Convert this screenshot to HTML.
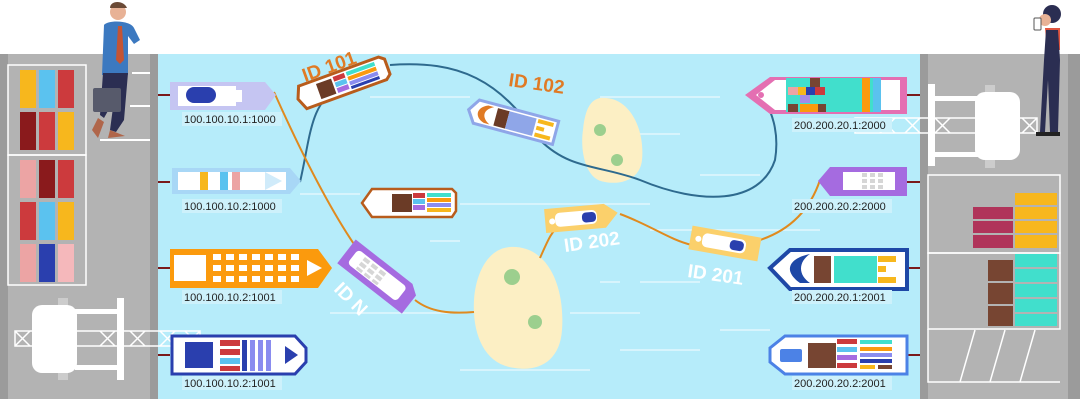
<!DOCTYPE html>
<html><head><meta charset="utf-8"><style>
html,body{margin:0;padding:0;background:#fff;}
svg{display:block;}
text{font-family:"Liberation Sans",sans-serif;}
</style></head><body>
<svg width="1080" height="404" viewBox="0 0 1080 404" xmlns="http://www.w3.org/2000/svg">
<rect width="1080" height="404" fill="#fff"/>
<!-- docks -->
<rect x="0" y="54" width="158" height="345" fill="#b3b3b3"/>
<rect x="0" y="54" width="8" height="345" fill="#9b9b9b"/>
<rect x="150" y="54" width="8" height="345" fill="#9b9b9b"/>
<rect x="920" y="54" width="160" height="345" fill="#b3b3b3"/>
<rect x="920" y="54" width="8" height="345" fill="#9b9b9b"/>
<rect x="1068" y="54" width="12" height="345" fill="#9b9b9b"/>
<!-- water -->
<rect x="158" y="54" width="762" height="345" fill="#b6ecfa"/>
<g stroke="#e2f7fd" stroke-width="1.5">
<line x1="370" y1="97" x2="470" y2="97"/><line x1="600" y1="97" x2="720" y2="97"/>
<line x1="640" y1="134" x2="680" y2="134"/><line x1="700" y1="175" x2="760" y2="175"/>
<line x1="300" y1="194" x2="360" y2="194"/><line x1="460" y1="204" x2="650" y2="204"/>
<line x1="430" y1="241" x2="460" y2="241"/><line x1="650" y1="230" x2="820" y2="230"/>
<line x1="600" y1="282" x2="620" y2="282"/><line x1="640" y1="282" x2="700" y2="282"/>
<line x1="330" y1="313" x2="450" y2="313"/><line x1="570" y1="313" x2="640" y2="313"/>
<line x1="720" y1="330" x2="770" y2="330"/><line x1="620" y1="350" x2="700" y2="350"/>
<line x1="770" y1="357" x2="905" y2="357"/><line x1="460" y1="370" x2="590" y2="370"/>
</g>
<!-- left storage -->
<g stroke="#fff" stroke-width="1.5" fill="none"><rect x="8" y="65" width="78" height="90"/><rect x="8" y="155" width="78" height="130"/></g>
<g>
<rect x="20" y="70" width="16" height="38" fill="#f7b71d"/><rect x="39" y="70" width="16" height="38" fill="#5bc2ef"/><rect x="58" y="70" width="16" height="38" fill="#cc3a3d"/>
<rect x="20" y="112" width="16" height="38" fill="#8a1a1c"/><rect x="39" y="112" width="16" height="38" fill="#cc3a3d"/><rect x="58" y="112" width="16" height="38" fill="#f7b71d"/>
<rect x="20" y="160" width="16" height="38" fill="#eca4a4"/><rect x="39" y="160" width="16" height="38" fill="#8a1a1c"/><rect x="58" y="160" width="16" height="38" fill="#cc3a3d"/>
<rect x="20" y="202" width="16" height="38" fill="#cc3a3d"/><rect x="39" y="202" width="16" height="38" fill="#5bc2ef"/><rect x="58" y="202" width="16" height="38" fill="#f7b71d"/>
<rect x="20" y="244" width="16" height="38" fill="#eca4a4"/><rect x="39" y="244" width="16" height="38" fill="#2a3fae"/><rect x="58" y="244" width="16" height="38" fill="#f5b8bb"/>
</g>
<g stroke="#fff" stroke-width="2"><line x1="132" y1="73" x2="150" y2="73"/><line x1="130" y1="106" x2="150" y2="106"/><line x1="100" y1="140" x2="150" y2="140"/></g>
<!-- left crane -->
<rect x="58" y="298" width="10" height="8" fill="#ccc"/><rect x="58" y="372" width="10" height="8" fill="#ccc"/>
<rect x="32" y="305" width="45" height="68" rx="10" fill="#fff"/>
<rect x="117" y="298" width="7" height="82" fill="#fff"/>
<rect x="75" y="309" width="45" height="5" fill="#fff"/><rect x="75" y="365" width="45" height="5" fill="#fff"/>
<g stroke="#fff" stroke-width="1.5" fill="none"><rect x="15" y="331" width="185" height="15"/>
<path d="M15 331 L30 346 M30 331 L15 346 M100 331 L115 346 M115 331 L100 346 M130 331 L145 346 M145 331 L130 346 M160 331 L175 346 M175 331 L160 346 M185 331 L200 346 M200 331 L185 346"/></g>
<!-- right crane -->
<rect x="985" y="85" width="10" height="8" fill="#ccc"/><rect x="985" y="160" width="10" height="8" fill="#ccc"/>
<rect x="928" y="84" width="7" height="82" fill="#fff"/>
<rect x="933" y="96" width="50" height="5" fill="#fff"/><rect x="933" y="152" width="50" height="5" fill="#fff"/>
<rect x="975" y="92" width="45" height="68" rx="10" fill="#fff"/>
<g stroke="#fff" stroke-width="1.5" fill="none"><rect x="855" y="118" width="182" height="15"/>
<path d="M880 118 L895 133 M895 118 L880 133 M905 118 L920 133 M920 118 L905 133 M935 118 L950 133 M950 118 L935 133 M1022 118 L1037 133 M1037 118 L1022 133"/></g>
<!-- right storage -->
<g stroke="#fff" stroke-width="1.5" fill="none"><rect x="928" y="175" width="132" height="78"/><rect x="928" y="253" width="132" height="76"/><path d="M928 329 V382 H1060 M960 382 L975 330 M990 382 L1005 330 M1020 382 L1035 330"/></g>
<g fill="#f7b71d"><rect x="1015" y="193" width="42" height="12"/><rect x="1015" y="207" width="42" height="12"/><rect x="1015" y="221" width="42" height="12"/><rect x="1015" y="235" width="42" height="13"/></g>
<g fill="#b0345a"><rect x="973" y="207" width="40" height="12"/><rect x="973" y="221" width="40" height="12"/><rect x="973" y="235" width="40" height="13"/></g>
<g fill="#41dfcc"><rect x="1015" y="254" width="42" height="13"/><rect x="1015" y="269" width="42" height="13"/><rect x="1015" y="284" width="42" height="13"/><rect x="1015" y="299" width="42" height="13"/><rect x="1015" y="314" width="42" height="12"/></g>
<g fill="#774532"><rect x="988" y="260" width="25" height="21"/><rect x="988" y="283" width="25" height="21"/><rect x="988" y="306" width="25" height="20"/></g>
<!-- mooring lines -->
<g stroke="#7a1a1a" stroke-width="2"><line x1="158" y1="95" x2="170" y2="95"/><line x1="158" y1="182" x2="170" y2="182"/><line x1="158" y1="268" x2="170" y2="268"/><line x1="158" y1="355" x2="170" y2="355"/>
<line x1="907" y1="95" x2="920" y2="95"/><line x1="907" y1="182" x2="920" y2="182"/><line x1="907" y1="268" x2="920" y2="268"/><line x1="907" y1="355" x2="920" y2="355"/></g>
<!-- islands -->
<path d="M600 98 C630 95 645 130 642 160 C640 180 620 185 605 182 C585 180 580 150 583 130 C585 110 590 100 600 98Z" fill="#fcefc4"/>
<path d="M510 247 C550 245 565 290 562 330 C560 360 540 372 515 368 C485 365 472 335 474 300 C476 270 490 248 510 247Z" fill="#fcefc4"/>
<g fill="#9ccf8e"><circle cx="600" cy="130" r="6"/><circle cx="617" cy="160" r="6"/><circle cx="512" cy="277" r="8"/><circle cx="535" cy="322" r="7"/></g>
<!-- connectors -->
<path d="M300 182 C310 140 310 100 340 88" stroke="#2e6a8e" stroke-width="2" fill="none"/>
<path d="M390 65 C460 60 500 80 540 140 C570 170 600 165 640 180 C700 205 760 205 775 160 C780 130 770 110 765 100" stroke="#2e6a8e" stroke-width="2" fill="none"/>
<path d="M274 92 C300 150 330 210 358 250" stroke="#e08a1e" stroke-width="2" fill="none"/>
<path d="M415 300 C430 312 450 314 474 312" stroke="#e08a1e" stroke-width="2" fill="none"/>
<path d="M540 258 C548 240 552 230 560 226" stroke="#e08a1e" stroke-width="2" fill="none"/>
<path d="M620 214 C650 225 670 240 692 245" stroke="#e08a1e" stroke-width="2" fill="none"/>
<path d="M760 240 C790 230 810 210 820 180" stroke="#e08a1e" stroke-width="2" fill="none"/>
<!-- left ships -->
<path d="M170 82 H265 L276 95 L265 110 H170 Z" fill="#c5c5f2"/>
<path d="M178 86 H236 V90 H242 V102 H236 V106 H178 Z" fill="#fff"/>
<rect x="186" y="87" width="30" height="16" rx="8" fill="#2a3fae"/>
<path d="M172 168 H290 L301 181 L290 194 H172 Z" fill="#a8d7f6"/>
<rect x="178" y="172" width="108" height="18" fill="#fff"/>
<rect x="200" y="172" width="8" height="18" fill="#f7b71d"/><rect x="220" y="172" width="8" height="18" fill="#5bc2ef"/><rect x="232" y="172" width="8" height="18" fill="#eca4a4"/>
<path d="M265 172 L282 181 L265 190Z" fill="#d0ebfa"/>
<path d="M170 249 H318 L332 268 L318 288 H170 Z" fill="#fb9a0d"/>
<rect x="174" y="255" width="32" height="26" fill="#fff"/>
<g fill="#fff"><rect x="213" y="254" width="8" height="6"/><rect x="226" y="254" width="8" height="6"/><rect x="239" y="254" width="8" height="6"/><rect x="252" y="254" width="8" height="6"/><rect x="265" y="254" width="8" height="6"/><rect x="278" y="254" width="8" height="6"/><rect x="291" y="254" width="8" height="6"/>
<rect x="213" y="265" width="8" height="6"/><rect x="226" y="265" width="8" height="6"/><rect x="239" y="265" width="8" height="6"/><rect x="252" y="265" width="8" height="6"/><rect x="265" y="265" width="8" height="6"/><rect x="278" y="265" width="8" height="6"/><rect x="291" y="265" width="8" height="6"/>
<rect x="213" y="276" width="8" height="6"/><rect x="226" y="276" width="8" height="6"/><rect x="239" y="276" width="8" height="6"/><rect x="252" y="276" width="8" height="6"/><rect x="265" y="276" width="8" height="6"/><rect x="278" y="276" width="8" height="6"/><rect x="291" y="276" width="8" height="6"/>
<path d="M307 260 L322 268 L307 276Z"/></g>
<path d="M172 336 H295 L306 348 V362 L295 374 H172 Z" fill="#fff" stroke="#2a3fae" stroke-width="3"/>
<rect x="185" y="342" width="28" height="26" fill="#2a3fae"/>
<g><rect x="220" y="340" width="20" height="6" fill="#cc3a3d"/><rect x="220" y="349" width="20" height="6" fill="#cc3a3d"/><rect x="220" y="358" width="20" height="6" fill="#5bc2ef"/><rect x="220" y="366" width="20" height="5" fill="#cc3a3d"/>
<rect x="242" y="340" width="5" height="31" fill="#2a3fae"/><rect x="250" y="340" width="5" height="31" fill="#8a8cef"/><rect x="258" y="340" width="5" height="31" fill="#8a8cef"/><rect x="266" y="340" width="5" height="31" fill="#8a8cef"/></g>
<path d="M285 346 L298 355 L285 364Z" fill="#2a3fae"/>
<!-- right ships -->
<path d="M907 77 H770 L745 95 L770 114 H907 Z" fill="#e46fb2"/>
<path d="M900 80 H775 L756 95 L775 110 H900 Z" fill="#fff"/>
<circle cx="761" cy="95" r="3" fill="#e46fb2"/>
<rect x="786" y="78" width="90" height="34" fill="#41dfcc"/>
<rect x="810" y="78" width="10" height="12" fill="#774532"/><rect x="805" y="87" width="10" height="8" fill="#2a3fae"/><rect x="788" y="87" width="10" height="8" fill="#eca4a4"/><rect x="798" y="87" width="8" height="8" fill="#f7b71d"/><rect x="815" y="87" width="10" height="8" fill="#cc3a3d"/><rect x="800" y="95" width="10" height="8" fill="#a48be8"/>
<rect x="788" y="104" width="10" height="8" fill="#774532"/><rect x="800" y="104" width="18" height="8" fill="#fb9a0d"/><rect x="818" y="104" width="8" height="8" fill="#774532"/>
<rect x="862" y="78" width="8" height="34" fill="#fb9a0d"/><rect x="873" y="78" width="8" height="34" fill="#5bc2ef"/>
<path d="M907 167 H830 L818 181 L830 196 H907 Z" fill="#a56be0"/>
<path d="M895 172 H843 V190 H895 Z" fill="#fff"/>
<g fill="#d6d6d6"><rect x="862" y="173" width="5" height="4"/><rect x="870" y="173" width="5" height="4"/><rect x="878" y="173" width="5" height="4"/><rect x="862" y="179" width="5" height="4"/><rect x="870" y="179" width="5" height="4"/><rect x="878" y="179" width="5" height="4"/><rect x="862" y="185" width="5" height="4"/><rect x="870" y="185" width="5" height="4"/><rect x="878" y="185" width="5" height="4"/></g>
<path d="M907 250 H790 L770 268 L790 289 H907 Z" fill="#fff" stroke="#1e48a6" stroke-width="4"/>
<path d="M810 254 C790 258 782 270 800 283 L810 283 C798 275 798 262 810 254Z" fill="#1e48a6"/>
<rect x="814" y="256" width="17" height="27" fill="#774532"/><rect x="834" y="256" width="43" height="27" fill="#41dfcc"/>
<rect x="878" y="256" width="18" height="6" fill="#f7b71d"/><rect x="878" y="266" width="8" height="6" fill="#f7b71d"/><rect x="878" y="277" width="18" height="6" fill="#f7b71d"/>
<path d="M907 336 H785 L770 348 V362 L785 374 H907 Z" fill="#fff" stroke="#4c82e6" stroke-width="3"/>
<rect x="780" y="349" width="22" height="13" rx="2" fill="#4c82e6"/>
<rect x="808" y="343" width="28" height="25" fill="#774532"/>
<g><rect x="837" y="339" width="20" height="5" fill="#cc3a3d"/><rect x="837" y="347" width="20" height="5" fill="#5bc2ef"/><rect x="837" y="355" width="20" height="5" fill="#a56be0"/><rect x="837" y="363" width="20" height="5" fill="#cc3a3d"/>
<rect x="860" y="340" width="32" height="4" fill="#41dfcc"/><rect x="860" y="347" width="32" height="4" fill="#fb9a0d"/><rect x="860" y="353" width="32" height="4" fill="#8a8cef"/><rect x="860" y="359" width="32" height="4" fill="#2a3fae"/><rect x="860" y="365" width="15" height="4" fill="#f7b71d"/><rect x="878" y="365" width="14" height="4" fill="#774532"/></g>
<!-- floating ships -->
<g transform="translate(345,82) rotate(-20)">
<path d="M-45 -12 H40 L45 -8 V8 L40 12 H-45 L-50 0 Z" fill="#fff" stroke="#b85c1c" stroke-width="3"/>
<rect x="-28" y="-8" width="16" height="16" fill="#6b3b26"/><rect x="-10" y="-9" width="12" height="5" fill="#cc3a3d"/><rect x="-10" y="-3" width="12" height="5" fill="#5bc2ef"/><rect x="-10" y="3" width="12" height="5" fill="#a56be0"/>
<rect x="4" y="-9" width="30" height="4" fill="#41dfcc"/><rect x="4" y="-4" width="30" height="4" fill="#fb9a0d"/><rect x="4" y="1" width="30" height="4" fill="#8a8cef"/><rect x="4" y="6" width="30" height="3" fill="#2a3fae"/>
</g>
<g transform="translate(515,122) rotate(15)">
<path d="M-40 -12 H42 V12 H-40 L-48 0 Z" fill="#fff" stroke="#8fa6e8" stroke-width="3"/>
<path d="M-30 -9 C-42 -4 -40 6 -30 9 L-24 9 C-34 4 -34 -4 -24 -9Z" fill="#e07a24"/>
<rect x="-20" y="-9" width="12" height="18" fill="#6b3b26"/><rect x="-8" y="-9" width="28" height="18" fill="#8fa6e8"/>
<rect x="22" y="-9" width="16" height="4" fill="#f7b71d"/><rect x="22" y="-2" width="8" height="4" fill="#f7b71d"/><rect x="22" y="5" width="16" height="4" fill="#f7b71d"/>
</g>
<g transform="translate(410,202)">
<path d="M-38 -13 H42 L46 -9 V9 L42 15 H-38 L-48 1 Z" fill="#fff" stroke="#b85c1c" stroke-width="2.5"/>
<rect x="-18" y="-8" width="20" height="18" fill="#6b3b26"/><rect x="3" y="-9" width="12" height="5" fill="#cc3a3d"/><rect x="3" y="-3" width="12" height="5" fill="#5bc2ef"/><rect x="3" y="3" width="12" height="5" fill="#a56be0"/>
<rect x="17" y="-9" width="24" height="4" fill="#41dfcc"/><rect x="17" y="-4" width="24" height="4" fill="#fb9a0d"/><rect x="17" y="1" width="24" height="4" fill="#8a8cef"/><rect x="17" y="6" width="24" height="4" fill="#f7b71d"/>
</g>
<g transform="translate(378,276) rotate(38)">
<path d="M-40 -15 H32 L42 -8 V15 H-40 Z" fill="#a56be0"/>
<rect x="-32" y="-9" width="62" height="18" rx="4" fill="#fff"/>
<g fill="#d6d6d6"><rect x="-22" y="-7" width="7" height="4"/><rect x="-12" y="-7" width="7" height="4"/><rect x="-2" y="-7" width="7" height="4"/><rect x="-22" y="-1" width="7" height="4"/><rect x="-12" y="-1" width="7" height="4"/><rect x="-2" y="-1" width="7" height="4"/><rect x="-22" y="5" width="7" height="3"/><rect x="-12" y="5" width="7" height="3"/><rect x="-2" y="5" width="7" height="3"/></g>
</g>
<g transform="translate(580,218) rotate(-5)">
<path d="M-35 -12 H25 L38 -2 L25 12 H-35 Z" fill="#fbd06b"/>
<rect x="-25" y="-7" width="42" height="14" rx="5" fill="#fff"/><circle cx="-28" cy="1" r="3" fill="#fff"/>
<rect x="2" y="-5" width="14" height="10" rx="4" fill="#2a3fae"/>
</g>
<g transform="translate(722,243) rotate(10)">
<path d="M-32 -12 H38 V12 H-32 Z" fill="#fbd06b"/>
<rect x="-20" y="-7" width="44" height="14" rx="5" fill="#fff"/><circle cx="-24" cy="0" r="3" fill="#fff"/>
<rect x="8" y="-5" width="14" height="10" rx="4" fill="#2a3fae"/>
</g>
<!-- ID labels -->
<g font-weight="bold" font-size="19">
<text x="305" y="82" fill="#e07a24" transform="rotate(-20 305 82)">ID 101</text>
<text x="508" y="86" fill="#e07a24" transform="rotate(8 508 86)">ID 102</text>
<text x="565" y="252" fill="#fff" transform="rotate(-8 565 252)">ID 202</text>
<text x="687" y="277" fill="#fff" transform="rotate(8 687 277)">ID 201</text>
<text x="333" y="290" fill="#fff" transform="rotate(45 333 290)">ID N</text>
</g>
<!-- IP labels -->
<g font-size="11" fill="#222">
<rect x="182" y="112" width="100" height="14" fill="#cdf1fb"/><text x="184" y="123">100.100.10.1:1000</text>
<rect x="182" y="199" width="100" height="14" fill="#cdf1fb"/><text x="184" y="210">100.100.10.2:1000</text>
<rect x="182" y="290" width="100" height="14" fill="#cdf1fb"/><text x="184" y="301">100.100.10.2:1001</text>
<rect x="182" y="376" width="100" height="14" fill="#cdf1fb"/><text x="184" y="387">100.100.10.2:1001</text>
<rect x="792" y="118" width="100" height="14" fill="#cdf1fb"/><text x="794" y="129">200.200.20.1:2000</text>
<rect x="792" y="199" width="100" height="14" fill="#cdf1fb"/><text x="794" y="210">200.200.20.2:2000</text>
<rect x="792" y="290" width="100" height="14" fill="#cdf1fb"/><text x="794" y="301">200.200.20.1:2001</text>
<rect x="792" y="376" width="100" height="14" fill="#cdf1fb"/><text x="794" y="387">200.200.20.2:2001</text>
</g>
<!-- man -->
<g>
<circle cx="118" cy="12" r="8" fill="#e8b296"/><path d="M110 8 C110 0 124 0 127 8Z" fill="#6b4a36"/>
<path d="M104 25 C108 20 130 20 134 28 L140 40 L134 44 L128 36 L128 75 H102 Z" fill="#3c79c0"/>
<path d="M118 26 L122 26 L124 60 L120 64 L116 60Z" fill="#c45434"/>
<path d="M103 73 H128 L124 120 L116 132 L110 130 L114 100 L104 118 L100 115Z" fill="#2b2e52"/>
<path d="M98 118 L92 130 L98 138 L104 122Z" fill="#b0664a"/><path d="M110 130 L125 136 L108 138Z" fill="#b0664a"/>
<rect x="93" y="88" width="28" height="24" rx="2" fill="#575a6b"/>
</g>
<!-- woman -->
<g>
<circle cx="1052" cy="14" r="9" fill="#2b2e52"/><circle cx="1045" cy="20" r="6" fill="#e8b296"/>
<rect x="1034" y="18" width="7" height="12" rx="1" fill="#fff" stroke="#555"/>
<path d="M1045 28 H1060 V50 H1047 Z" fill="#e0553f"/>
<path d="M1046 30 H1058 L1060 60 L1058 132 H1050 L1048 80 L1045 132 H1040 L1044 60Z" fill="#2b2e52"/>
<rect x="1036" y="132" width="12" height="4" fill="#222"/><rect x="1048" y="132" width="12" height="4" fill="#222"/>
</g>
</svg>
</body></html>
